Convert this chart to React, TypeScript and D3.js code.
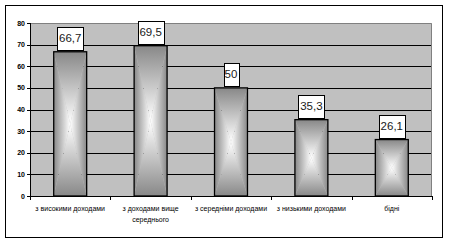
import React from "react";
import * as d3 from "d3";

const categories = [
  ["з високими доходами"],
  ["з доходами вище", "середнього"],
  ["з середніми доходами"],
  ["з низькими доходами"],
  ["бідні"],
];
const values = [66.7, 69.5, 50, 35.3, 26.1];
const valueLabels = ["66,7", "69,5", "50", "35,3", "26,1"];
const yTicks = [0, 10, 20, 30, 40, 50, 60, 70, 80];

const W = 449;
const H = 243;
const plot = { left: 30, top: 23, right: 432, bottom: 196 };

export default function App() {
  const x = d3
    .scaleBand<number>()
    .domain(d3.range(values.length))
    .range([plot.left, plot.right])
    .paddingInner(0.59)
    .paddingOuter(0.295);
  const y = d3.scaleLinear().domain([0, 80]).range([plot.bottom, plot.top]);
  const band = (plot.right - plot.left) / values.length;
  const edge = "#888888";

  return (
    <svg
      width={W}
      height={H}
      style={{ position: "absolute", left: 0, top: 0, display: "block", fontFamily: "'Liberation Sans', Arial, sans-serif" }}
    >
      <defs>
        <linearGradient id="gT" x1="0" y1="0" x2="0" y2="1">
          <stop offset="0" stopColor={edge} />
          <stop offset="1" stopColor="#ffffff" />
        </linearGradient>
        <linearGradient id="gB" x1="0" y1="1" x2="0" y2="0">
          <stop offset="0" stopColor={edge} />
          <stop offset="1" stopColor="#ffffff" />
        </linearGradient>
        <linearGradient id="gL" x1="0" y1="0" x2="1" y2="0">
          <stop offset="0" stopColor={edge} />
          <stop offset="1" stopColor="#ffffff" />
        </linearGradient>
        <linearGradient id="gR" x1="1" y1="0" x2="0" y2="0">
          <stop offset="0" stopColor={edge} />
          <stop offset="1" stopColor="#ffffff" />
        </linearGradient>
      </defs>
      <rect x={0} y={0} width={W} height={H} fill="#fff" />
      <rect x={5.5} y={5.5} width={437} height={232} fill="#fff" stroke="#000" strokeWidth={1} />

      {/* plot area */}
      <rect x={plot.left} y={plot.top} width={plot.right - plot.left} height={plot.bottom - plot.top} fill="#c0c0c0" />
      <polyline
        points={`${plot.left},${plot.top + 0.5} ${plot.right - 0.5},${plot.top + 0.5} ${plot.right - 0.5},${plot.bottom}`}
        fill="none"
        stroke="#808080"
        strokeWidth={1}
      />
      {yTicks.slice(1, -1).map((t) => (
        <line key={t} x1={plot.left} x2={plot.right - 1} y1={Math.round(y(t)) + 0.5} y2={Math.round(y(t)) + 0.5} stroke="#000" strokeWidth={1} />
      ))}

      {/* bars */}
      {values.map((v, i) => {
        const x0 = x(i)!;
        const x1 = x0 + x.bandwidth();
        const y0 = y(v);
        const y1 = y(0);
        const cx = (x0 + x1) / 2;
        const cy = (y0 + y1) / 2;
        return (
          <g key={i}>
            <polygon points={`${x0},${y0} ${x1},${y0} ${cx},${cy}`} fill="url(#gT)" />
            <polygon points={`${x0},${y1} ${x1},${y1} ${cx},${cy}`} fill="url(#gB)" />
            <polygon points={`${x0},${y0} ${x0},${y1} ${cx},${cy}`} fill="url(#gL)" />
            <polygon points={`${x1},${y0} ${x1},${y1} ${cx},${cy}`} fill="url(#gR)" />
            <rect x={x0} y={y0} width={x1 - x0} height={y1 - y0} fill="none" stroke="#000" strokeWidth={1.3} />
          </g>
        );
      })}

      {/* value labels */}
      {values.map((v, i) => {
        const cx = x(i)! + x.bandwidth() / 2;
        const w = valueLabels[i].length > 2 ? 26 : 15;
        const h = 23;
        const bottom = y(v) - 2;
        return (
          <g key={i}>
            <rect x={Math.round(cx - w / 2) + 0.5} y={Math.round(bottom - h) + 0.5} width={w} height={h} fill="#fff" stroke="#000" strokeWidth={1} />
            <text x={cx} y={bottom - h / 2 + 4} textAnchor="middle" fontSize={11.5} fill="#1a1a1a">
              {valueLabels[i]}
            </text>
          </g>
        );
      })}

      {/* axes */}
      <line x1={plot.left + 0.5} x2={plot.left + 0.5} y1={plot.top} y2={plot.bottom + 0.5} stroke="#000" strokeWidth={1} />
      <line x1={plot.left} x2={plot.right} y1={plot.bottom + 0.5} y2={plot.bottom + 0.5} stroke="#000" strokeWidth={1} />
      {yTicks.map((t) => (
        <g key={t}>
          <line x1={plot.left - 3} x2={plot.left} y1={Math.round(y(t)) + 0.5} y2={Math.round(y(t)) + 0.5} stroke="#000" />
          <text x={plot.left - 5} y={y(t) + 2.5} textAnchor="end" fontSize={7} fontWeight="bold" fill="#000">
            {t}
          </text>
        </g>
      ))}
      {d3.range(values.length + 1).map((i) => {
        const xx = Math.round(plot.left + band * i) + 0.5;
        return <line key={i} x1={xx} x2={xx} y1={plot.bottom} y2={plot.bottom + 4} stroke="#000" />;
      })}
      {categories.map((lines, i) => {
        const cx = x(i)! + x.bandwidth() / 2;
        return (
          <text key={i} x={cx} y={210.5} textAnchor="middle" fontSize={7} fill="#000">
            {lines.map((l, j) => (
              <tspan key={j} x={cx} dy={j === 0 ? 0 : 11}>
                {l}
              </tspan>
            ))}
          </text>
        );
      })}
    </svg>
  );
}
